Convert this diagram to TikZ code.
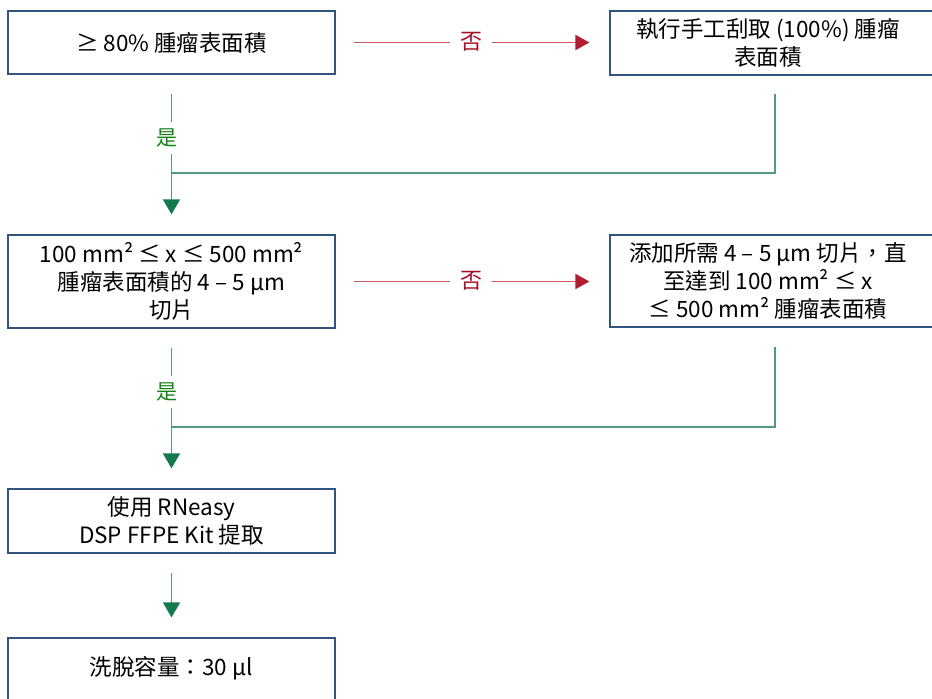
\documentclass[tikz,border=0pt]{standalone}
\usepackage{fontspec}
\setmainfont{Noto Sans CJK TC}
\usetikzlibrary{arrows.meta,calc,shadows}
\definecolor{boxcol}{RGB}{52,84,128}
\definecolor{gline}{RGB}{80,155,125}
\definecolor{ghead}{RGB}{20,120,80}
\definecolor{gtext}{RGB}{20,130,20}
\definecolor{rline}{RGB}{205,85,100}
\definecolor{rhead}{RGB}{178,28,46}
\definecolor{rtext}{RGB}{165,15,40}
\tikzset{
  box/.style={draw=boxcol, line width=1.2pt, fill=white, inner sep=0pt,
    drop shadow={shadow xshift=1.2pt, shadow yshift=-1.2pt, fill=gray!45, opacity=1}},
  boxtext/.style={align=center, inner sep=0pt, font=\fontsize{22.5}{28}\selectfont},
  noarrow/.style={draw=rline, line width=1.7pt, -{Triangle[width=15pt,length=14pt,color=rhead]}},
  yesline/.style={draw=gline, line width=1.6pt},
  yesarrow/.style={yesline, -{Triangle[width=17pt,length=15pt,color=ghead]}},
  nolabel/.style={fill=white, text=rtext, inner xsep=10pt, inner ysep=3pt, font=\fontsize{22}{24}\selectfont},
  yeslabel/.style={fill=white, text=gtext, inner xsep=3pt, inner ysep=7pt, font=\fontsize{21}{24}\selectfont},
}
\begin{document}
\begin{tikzpicture}[x=1pt,y=-1pt]
\useasboundingbox (0,0) rectangle (932,699);
\clip (0,0) rectangle (932,699);
% left column
\node[box, minimum width=327pt, minimum height=63pt] (b1) at (171.5,42.5) {};
\node[boxtext] (t1) at (b1.center) {≥ 80\% 腫瘤表面積};
\node[box, minimum width=327pt, minimum height=93pt] (b3) at (171.5,281.5) {};
\node[boxtext] (t3) at (b3.center) {100 mm² ≤ x ≤ 500 mm²\\腫瘤表面積的 4 – 5 μm\\切片};
\node[box, minimum width=327pt, minimum height=64pt] (b5) at (171.5,521) {};
\node[boxtext] (t5) at (b5.center) {使用 RNeasy\\DSP FFPE Kit 提取};
\node[box, minimum width=327pt, minimum height=64pt] (b6) at (171.5,670) {};
\node[boxtext] (t6) at (171.5,668) {洗脫容量：30 μl};
% right column
\node[box, minimum width=350pt, minimum height=64pt] (b2) at (785,43) {};
\node[boxtext] (t2) at (768,43) {執行手工刮取 (100\%) 腫瘤\\表面積};
\node[box, minimum width=350pt, minimum height=92pt] (b4) at (785,281) {};
\node[boxtext] (t4) at (768,281) {添加所需 4 – 5 μm 切片，直\\至達到 100 mm² ≤ x\\≤ 500 mm² 腫瘤表面積};
% no arrows
\draw[noarrow, shorten <=18pt, shorten >=20pt] (b1.east) -- (b2.west |- b1.east);
\node[nolabel] (n1) at (471,42) {否};
\draw[noarrow, shorten <=18pt, shorten >=20pt] (b3.east) -- (b4.west |- b3.east);
\node[nolabel] (n2) at (471,281) {否};
% yes arrows
\coordinate (j1) at (b1.south |- 0,173);
\coordinate (r1) at (775,94);
\draw[yesline] (r1) |- (j1);
\draw[yesarrow, shorten <=19pt, shorten >=20pt] (b1.south) -- (b3.north);
\node[yeslabel] (y1) at (167,138) {是};
\coordinate (j2) at (b3.south |- 0,427);
\coordinate (r2) at (775,347);
\draw[yesline] (r2) |- (j2);
\draw[yesarrow, shorten <=19pt, shorten >=20pt] (b3.south) -- (b5.north);
\node[yeslabel] (y2) at (167,392) {是};
\draw[yesarrow, shorten <=19pt, shorten >=20pt] (b5.south) -- (b6.north);
\end{tikzpicture}
\end{document}
